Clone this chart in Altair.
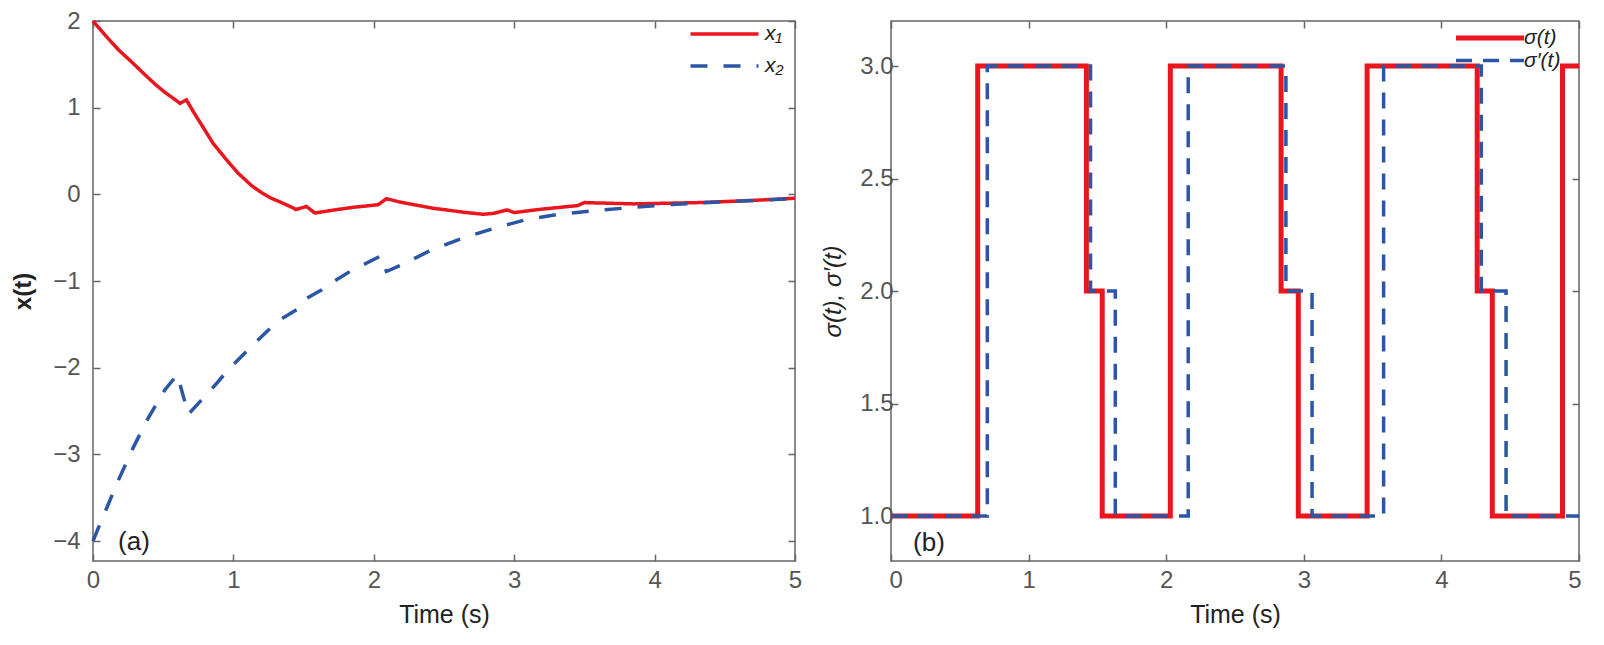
import altair as alt
import pandas as pd

# ---------- data: panel (a) ----------
t_x1 = [0.00, 0.09, 0.18, 0.28, 0.37, 0.45, 0.51, 0.57, 0.62, 0.665, 0.72, 0.77, 0.855, 0.94, 1.03,
        1.13, 1.20, 1.27, 1.35, 1.43, 1.445, 1.52, 1.58, 1.72, 1.85, 2.03, 2.09, 2.19, 2.42, 2.66,
        2.78, 2.85, 2.95, 3.00, 3.20, 3.45, 3.50, 3.85, 4.32, 4.70, 5.00]
v_x1 = [2.00, 1.83, 1.67, 1.52, 1.38, 1.26, 1.18, 1.11, 1.05, 1.09, 0.94, 0.81, 0.59, 0.42, 0.25,
        0.10, 0.02, -0.045, -0.10, -0.16, -0.175, -0.14, -0.215, -0.18, -0.15, -0.12, -0.05, -0.09, -0.16, -0.21,
        -0.23, -0.22, -0.18, -0.21, -0.17, -0.13, -0.095, -0.11, -0.095, -0.07, -0.045]

t_x2 = [0.00, 0.05, 0.10, 0.18, 0.29, 0.39, 0.51, 0.58, 0.60, 0.68, 0.70, 0.87, 0.96, 1.13, 1.31,
        1.45, 1.51, 1.63, 1.71, 1.83, 2.05, 2.09, 2.19, 2.40, 2.64, 2.88, 3.09, 3.32, 3.56, 3.85,
        4.09, 4.56, 5.00]
v_x2 = [-4.00, -3.80, -3.61, -3.30, -2.91, -2.59, -2.26, -2.12, -2.08, -2.54, -2.50, -2.20, -2.03, -1.75, -1.47,
        -1.33, -1.21, -1.10, -1.01, -0.89, -0.71, -0.89, -0.82, -0.65, -0.50, -0.38, -0.29, -0.23, -0.19, -0.15,
        -0.12, -0.08, -0.05]

# ---------- data: panel (b) ----------
t_sig = [0.00, 0.63, 1.42, 1.535, 2.03, 2.835, 2.96, 3.46, 4.26, 4.37, 4.88, 5.00]
v_sig = [1, 3, 2, 1, 3, 2, 1, 3, 2, 1, 3, 3]
t_sigp = [0.00, 0.70, 1.45, 1.63, 2.16, 2.87, 3.06, 3.58, 4.29, 4.47, 5.00]
v_sigp = [1, 3, 2, 1, 3, 2, 1, 3, 2, 1, 1]

names_a = ["x₁", "x₂"]
names_b = ["σ(t)", "σ′(t)"]
x_ticks = [0, 1, 2, 3, 4, 5]
y_ticks_a = [-4, -3, -2, -1, 0, 1, 2]
y_ticks_b = [1.0, 1.5, 2.0, 2.5, 3.0]

RED = "#EA151D"
BLUE = "#2B55A5"
FONT = "Liberation Sans"
LEG_PATH = "M-4,0H4"
H = 540

df_a = pd.DataFrame({
    "t": t_x1 + t_x2,
    "v": v_x1 + v_x2,
    "s": [names_a[0]] * len(t_x1) + [names_a[1]] * len(t_x2),
})
df_b = pd.DataFrame({
    "t": t_sig + t_sigp,
    "v": v_sig + v_sigp,
    "s": [names_b[0]] * len(t_sig) + [names_b[1]] * len(t_sigp),
})
one = pd.DataFrame({"k": [0]})


def tick_axis(orient, values, **kw):
    return alt.Axis(orient=orient, values=values, offset=-7, tickSize=7, domain=False, grid=False, **kw)


def panel(df, names, ydom, yvals, yfmt, ytitle, yaxis_kw, xaxis_kw, widths, dashes,
          leg_kw, label_txt, label_xy, w, h, interp):
    xs = alt.Scale(domain=[0, 5], nice=False, zero=False)
    ys = alt.Scale(domain=ydom, nice=False, zero=False)
    leg = alt.Legend(title=None, orient="none", symbolType=LEG_PATH, symbolSize=289,
                     labelFont=FONT, labelFontStyle="italic", labelColor="#222", padding=0,
                     labelFontSize=21, **leg_kw)
    lines = alt.Chart(df).mark_line(strokeJoin="miter", interpolate=interp).encode(
        x=alt.X("t:Q", scale=xs, axis=tick_axis("bottom", x_ticks, title="Time (s)",
                                                   labelPadding=7, titlePadding=10, **xaxis_kw)),
        y=alt.Y("v:Q", scale=ys, axis=tick_axis("left", yvals, title=ytitle, format=yfmt, **yaxis_kw)),
        color=alt.Color("s:N", scale=alt.Scale(domain=names, range=[RED, BLUE]), legend=leg),
        strokeDash=alt.StrokeDash("s:N", scale=alt.Scale(domain=names, range=dashes), legend=leg),
        strokeWidth=alt.StrokeWidth("s:N", scale=alt.Scale(domain=names, range=widths), legend=None),
    )
    frame = alt.Chart(df).mark_point(opacity=0, size=1).encode(
        x=alt.X("t:Q", scale=xs, axis=tick_axis("top", x_ticks, labels=False, title=None)),
        y=alt.Y("v:Q", scale=ys, axis=tick_axis("right", yvals, labels=False, title=None)),
    )
    lab = alt.Chart(one).mark_text(font=FONT, fontSize=26, color="#222", align="center",
                                   baseline="middle").encode(
        x=alt.value(label_xy[0]), y=alt.value(label_xy[1]), text=alt.value(label_txt))
    return alt.layer(lines, frame, lab).resolve_axis(x="independent", y="independent").properties(
        width=w, height=h)


left = panel(df_a, names_a, [-4.23, 2], y_ticks_a, "d", "x(t)",
             dict(titleFontWeight="bold", titlePadding=17, labelPadding=13),
             dict(labelFlush=False),
             [3.5, 3.5], [[1, 0], [17, 16]],
             dict(legendX=621, legendY=2.5, symbolStrokeWidth=4.5, rowPadding=10, labelOffset=30),
             "(a)", (41, H - 19), 702, H, "linear")

right = panel(df_b, names_b, [0.8, 3.2], y_ticks_b, ".1f", "σ(t), σ′(t)",
              dict(titleFontStyle="italic", titleFontWeight="normal", titlePadding=14,
                   labelPadding=-2),
              dict(labelFlush=True, labelFlushOffset=2),
              [5, 3.5], [[1, 0], [16, 11]],
              dict(legendX=588, legendY=6, symbolStrokeWidth=4, rowPadding=1, labelOffset=23),
              "(b)", (38, H - 18), 688, H, "step-after")

chart = alt.hconcat(left, right, spacing=17).resolve_scale(
    color="independent", strokeDash="independent", strokeWidth="independent"
).resolve_legend(
    color="independent", strokeDash="independent"
).properties(
    padding={"left": 2, "top": 0, "right": 0, "bottom": 0}
).configure(font=FONT).configure_axis(
    labelFont=FONT, labelFontSize=24, labelColor="#555",
    titleFont=FONT, titleFontSize=24, titleColor="#222", titleFontWeight="normal",
    tickColor="#666", tickWidth=1.5,
).configure_axisX(titleFontSize=25).configure_view(stroke="#666", strokeWidth=1.5)

chart.save("out.html", embed_options={"renderer": "svg", "actions": False})
